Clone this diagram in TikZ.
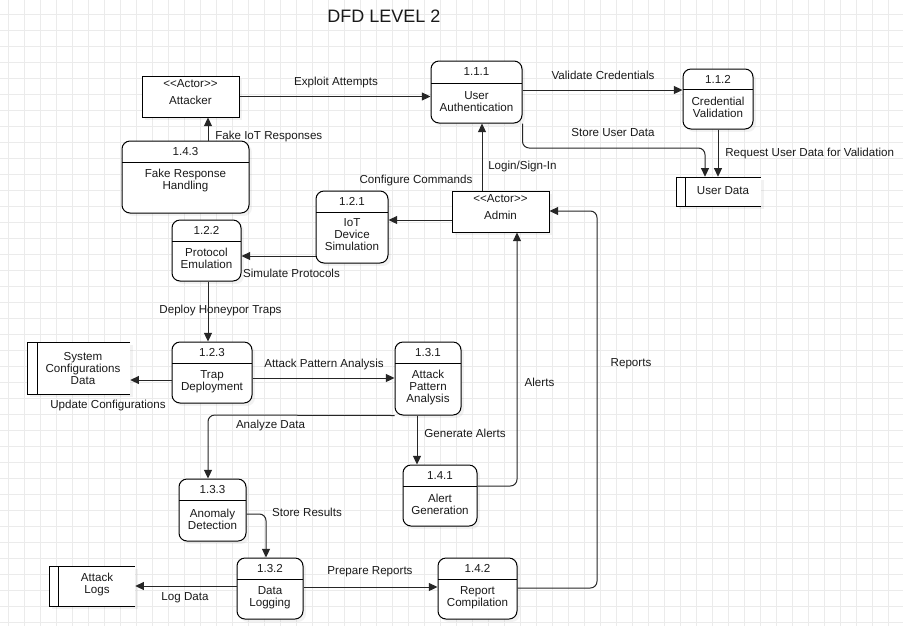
\documentclass[tikz,border=0pt]{standalone}
\usepackage{fontspec}
\newfontfamily\dfont{Liberation Sans}
\usetikzlibrary{arrows.meta,fit,shadows,calc}
\definecolor{gridc}{HTML}{EBEBEB}
\definecolor{txt}{HTML}{1A1A1A}
\definecolor{linec}{HTML}{262626}

\newcommand\procbox[9]{%
  \coordinate (#1-nw) at (#2,#3);
  \coordinate (#1-se) at (#4,#5);
  \node[proc, fit=(#1-nw)(#1-se)] (#1) {};
  \draw[boxline] (#2,#6) -- (#4,#6);
  \node[lbl] (#1-num) at ({(#2+#4)/2},{(#3+#6)/2}) {#7};
  \node[lbl] (#1-txt) at ({(#2+#4)/2},#8) {#9};
}
\newcommand\actorbox[6]{%
  \coordinate (#1-nw) at (#2,#3);
  \coordinate (#1-se) at (#4,#5);
  \node[actr, fit=(#1-nw)(#1-se)] (#1) {};
  \node[lbl] (#1-st) at ({(#2+#4)/2},{#3+8}) {<<Actor>>};
  \node[lbl] (#1-txt) at ({(#2+#4)/2},{#3+24.5}) {#6};
}
\newcommand\storebox[9]{%
  \coordinate (#1-nw) at (#2,#3);
  \coordinate (#1-se) at (#4,#5);
  \node[stor, fit=(#1-nw)(#1-se)] (#1) {};
  \draw[boxline] (#4,#3) -- (#2,#3) -- (#2,#5) -- (#4,#5);
  \draw[boxline] (#6,#3) -- (#6,#5);
  \node[lbl] (#1-txt) at (#8,#9) {#7};
}

\begin{document}
\begin{tikzpicture}[x=0.75pt,y=-0.75pt,
  lbl/.style={font=\dfont\fontsize{8.7}{9}\selectfont, text=txt, inner sep=0pt, align=center},
  boxline/.style={draw=black, line width=0.75pt},
  proc/.style={draw=black, line width=0.75pt, fill=white, rounded corners=6pt, inner sep=0pt,
    drop shadow={opacity=0.10, shadow xshift=2.2pt, shadow yshift=-2.2pt}},
  actr/.style={draw=black, line width=0.75pt, fill=white, inner sep=0pt,
    drop shadow={opacity=0.10, shadow xshift=2.2pt, shadow yshift=-2.2pt}},
  stor/.style={fill=white, inner sep=0pt,
    drop shadow={opacity=0.10, shadow xshift=2.2pt, shadow yshift=-2.2pt}},
  flow/.style={draw=linec, line width=0.75pt, -{Triangle[length=6.5pt,width=6pt]}},
  rc/.style={rounded corners=5pt},
  gridl/.style={draw=gridc, line width=0.75pt}
]
\useasboundingbox (0,0) rectangle (903,626);
\fill[white] (0,0) rectangle (903,626);
\foreach \x in {8,24,...,904} \draw[gridl] (\x,0) -- (\x,626);
\foreach \y in {14,30,...,622} \draw[gridl] (0,\y) -- (903,\y);

\node[font=\dfont\fontsize{13.5}{16}\selectfont, text=txt, inner sep=0pt] (title) at (384,16) {DFD LEVEL 2};

% actors
\actorbox{att}{142}{76}{239}{117}{Attacker}
\actorbox{admin}{452}{191}{549}{232}{Admin}

% processes
\procbox{p111}{431}{61}{522}{123}{83}{1.1.1}{101.5}{User\\Authentication}
\procbox{p112}{683}{69}{753}{129}{89}{1.1.2}{107.8}{Credential\\Validation}
\procbox{p143}{122}{141}{249}{213}{162}{1.4.3}{180}{Fake Response\\Handling}
\procbox{p121}{316}{191}{388}{263}{212}{1.2.1}{235}{IoT\\Device\\Simulation}
\procbox{p122}{172}{220}{241}{281}{241}{1.2.2}{258.5}{Protocol\\Emulation}
\procbox{p123}{172}{342}{252}{403}{363}{1.2.3}{382}{Trap\\Deployment}
\procbox{p131}{395}{342}{461}{415}{363}{1.3.1}{387}{Attack\\Pattern\\Analysis}
\procbox{p141}{403}{465}{477}{526}{486}{1.4.1}{504}{Alert\\Generation}
\procbox{p133}{179}{479}{246}{541}{500}{1.3.3}{519}{Anomaly\\Detection}
\procbox{p132}{237}{558}{303}{619}{579}{1.3.2}{597.5}{Data\\Logging}
\procbox{p142}{438}{558}{517}{619}{579}{1.4.2}{597.5}{Report\\Compilation}

% data stores
\storebox{udata}{676}{177}{761}{206}{685}{User Data}{723}{191}
\storebox{sysconf}{27}{342}{130}{394}{37}{System\\Configurations\\Data}{83}{368}
\storebox{alogs}{49}{566}{135}{606}{58}{Attack\\Logs}{97}{584}

% flows
\draw[flow] (att.east) -- (att.east -| p111.west);
\draw[flow] (p111.east |- 0,90) -- (p112.west |- 0,90);
\draw[flow,rc] (p111.south east) -- (p111.south east |- 0,148) -- (705,148) -- (udata.north -| 705,0);
\draw[flow] (p112.south -| 718,0) -- (udata.north -| 718,0);
\draw[flow] (admin.north -| 482,0) -- (p111.south -| 482,0);
\draw[flow] (admin.west |- 0,220) -- (p121.east |- 0,220);
\draw[flow] (p121.west |- 0,256) -- (p122.east |- 0,256);
\draw[flow] (p143.north -| 208,0) -- (att.south -| 208,0);
\draw[flow] (p122.south -| 208,0) -- (p123.north -| 208,0);
\draw[flow] (p123.west |- 0,380) -- (sysconf.east |- 0,380);
\draw[flow] (p123.east |- 0,378) -- (p131.west |- 0,378);
\draw[flow,rc] (p131.south west) -- (208,415) -- (p133.north -| 208,0);
\draw[flow] (p131.south -| 417,0) -- (p141.north -| 417,0);
\draw[flow,rc] (p141.east |- 0,486) -- (517,486) -- (admin.south -| 517,0);
\draw[flow,rc] (p142.east |- 0,588) -- (597,588) -- (597,211) -- (admin.east |- 0,211);
\draw[flow,rc] (p133.east |- 0,514) -- (266,514) -- (p132.north -| 266,0);
\draw[flow] (p132.west |- 0,586) -- (alogs.east |- 0,586);
\draw[flow] (p132.east |- 0,587) -- (p142.west |- 0,587);

% flow labels
\node[lbl] (l1) at (336,82) {Exploit Attempts};
\node[lbl] (l2) at (603,75) {Validate Credentials};
\node[lbl] (l3) at (613,133) {Store User Data};
\node[lbl, anchor=west] (l4) at (725,153) {Request User Data for Validation};
\node[lbl, anchor=west] (l5) at (488,166) {Login/Sign-In};
\node[lbl] (l6) at (416,180) {Configure Commands};
\node[lbl, anchor=west] (l7) at (215,136) {Fake IoT Responses};
\node[lbl] (l8) at (291.5,273) {Simulate Protocols};
\node[lbl] (l9) at (220.5,310) {Deploy Honeypor Traps};
\node[lbl] (l10) at (108,405) {Update Configurations};
\node[lbl] (l11) at (324,364) {Attack Pattern Analysis};
\node[lbl] (l12) at (270.5,425) {Analyze Data};
\node[lbl] (l13) at (465,433) {Generate Alerts};
\node[lbl] (l14) at (539.5,382) {Alerts};
\node[lbl] (l15) at (631,364) {Reports};
\node[lbl] (l16) at (307,512) {Store Results};
\node[lbl] (l17) at (185,598) {Log Data};
\node[lbl] (l18) at (370,572) {Prepare Reports};
\end{tikzpicture}
\end{document}
